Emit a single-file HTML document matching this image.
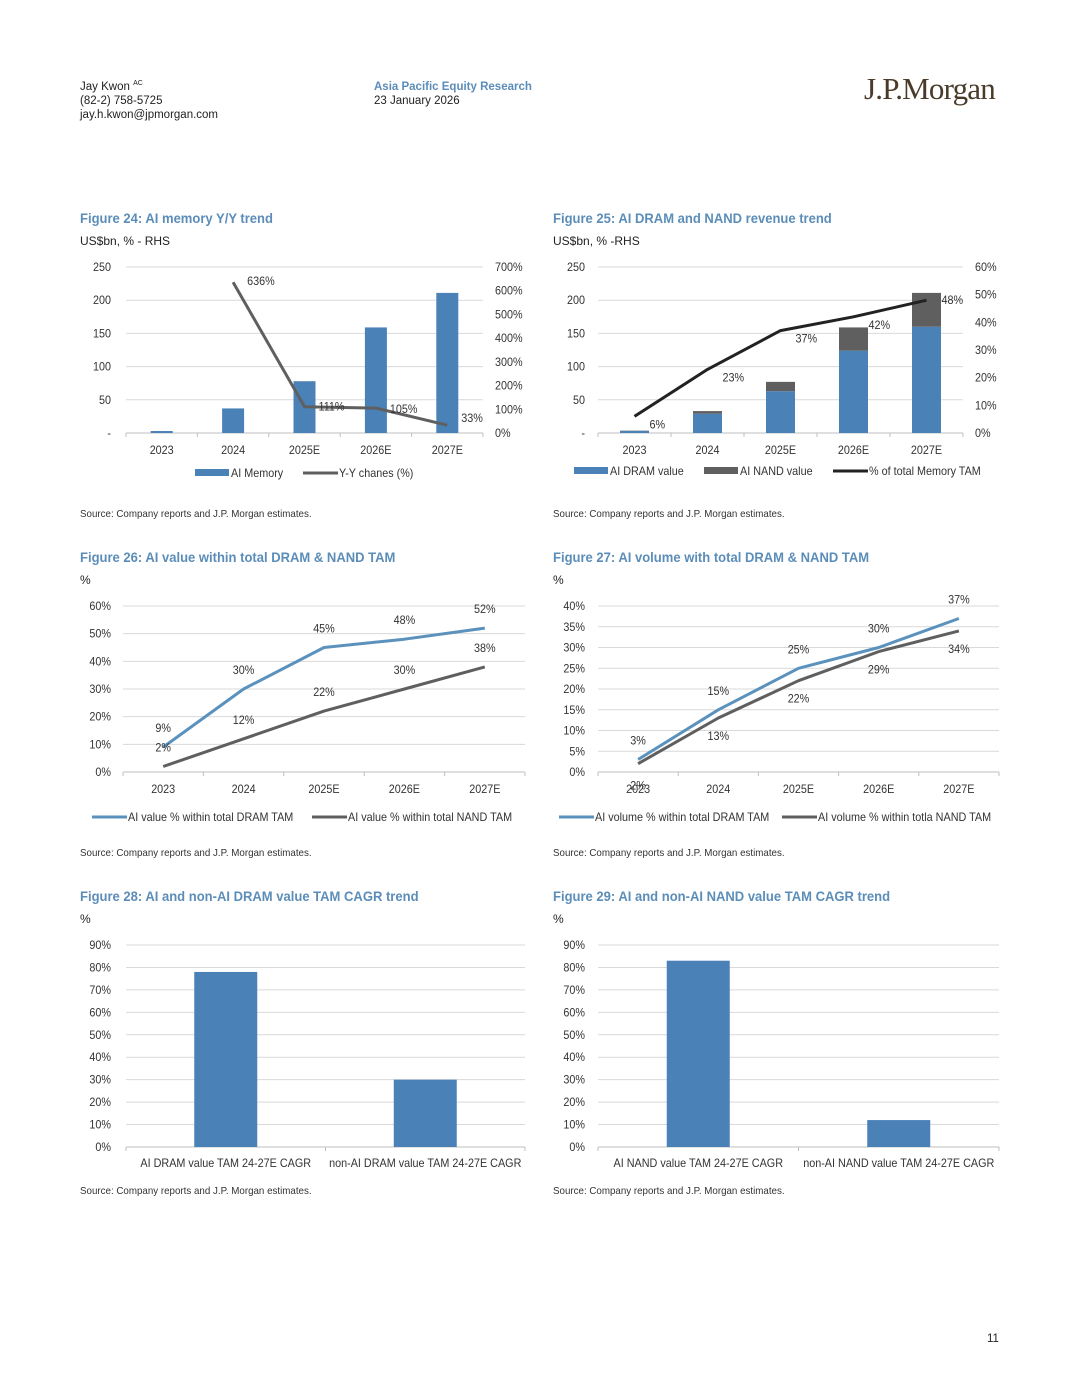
<!DOCTYPE html>
<html><head><meta charset="utf-8">
<style>
html,body{margin:0;padding:0;background:#fff;}
body{width:1080px;height:1397px;position:relative;overflow:hidden;font-family:"Liberation Sans",Arial,sans-serif;}
.t{position:absolute;white-space:nowrap;font-size:11.5px;color:#222;}
.title{position:absolute;white-space:nowrap;font-size:14px;font-weight:bold;color:#5b8db8;transform:scaleX(0.93);transform-origin:left top;}
.src{position:absolute;white-space:nowrap;font-size:10.5px;color:#333;transform:scaleX(0.93);transform-origin:left top;}
svg text{font-family:"Liberation Sans",Arial,sans-serif;font-size:12px;fill:#333;}
</style></head><body>
<div class="t" style="left:80px;top:80px;">Jay Kwon <sup style="font-size:7px">AC</sup></div>
<div class="t" style="left:80px;top:95px;">(82-2) 758-5725</div>
<div class="t" style="left:80px;top:109px;">jay.h.kwon@jpmorgan.com</div>
<div class="t" style="left:374px;top:81px;color:#5b8db8;font-weight:bold;">Asia Pacific Equity Research</div>
<div class="t" style="left:374px;top:95px;">23 January 2026</div>
<div style="position:absolute;left:864px;top:71px;font-family:'Liberation Serif',serif;font-size:31px;color:#4a3a2a;letter-spacing:-0.8px;">J.P.Morgan</div>

<div class="title" style="left:80px;top:210px;">Figure 24: AI memory Y/Y trend</div>
<div class="t" style="left:80px;top:234px;font-size:12px;">US$bn, % - RHS</div>
<div class="title" style="left:553px;top:210px;">Figure 25: AI DRAM and NAND revenue trend</div>
<div class="t" style="left:553px;top:234px;font-size:12px;">US$bn, % -RHS</div>
<div class="title" style="left:80px;top:549px;">Figure 26: AI value within total DRAM &amp; NAND TAM</div>
<div class="t" style="left:80px;top:573px;font-size:12px;">%</div>
<div class="title" style="left:553px;top:549px;">Figure 27: AI volume with total DRAM &amp; NAND TAM</div>
<div class="t" style="left:553px;top:573px;font-size:12px;">%</div>
<div class="title" style="left:80px;top:888px;">Figure 28: AI and non-AI DRAM value TAM CAGR trend</div>
<div class="t" style="left:80px;top:912px;font-size:12px;">%</div>
<div class="title" style="left:553px;top:888px;">Figure 29: AI and non-AI NAND value TAM CAGR trend</div>
<div class="t" style="left:553px;top:912px;font-size:12px;">%</div>

<div class="src" style="left:80px;top:508px;">Source: Company reports and J.P. Morgan estimates.</div>
<div class="src" style="left:553px;top:508px;">Source: Company reports and J.P. Morgan estimates.</div>
<div class="src" style="left:80px;top:847px;">Source: Company reports and J.P. Morgan estimates.</div>
<div class="src" style="left:553px;top:847px;">Source: Company reports and J.P. Morgan estimates.</div>
<div class="src" style="left:80px;top:1185px;">Source: Company reports and J.P. Morgan estimates.</div>
<div class="src" style="left:553px;top:1185px;">Source: Company reports and J.P. Morgan estimates.</div>
<div class="t" style="left:987px;top:1333px;">11</div>

<svg id="chart" width="1080" height="1397" style="position:absolute;left:0;top:0;"></svg>

<script>
// Figure 24
const years = ['2023','2024','2025E','2026E','2027E'];
const f24Memory = [3, 37, 78, 159, 211];
const f24Yoy = [null, 636, 111, 105, 33];
const f24LeftTicks = ['-','50','100','150','200','250'];
const f24RightTicks = ['0%','100%','200%','300%','400%','500%','600%','700%'];
// Figure 25
const f25Dram = [3, 29, 63, 124, 160];
const f25Nand = [0.5, 4, 14, 35, 51];
const f25Share = [6, 23, 37, 42, 48];
const f25LeftTicks = ['-','50','100','150','200','250'];
const f25RightTicks = ['0%','10%','20%','30%','40%','50%','60%'];
// Figure 26
const f26Dram = [9, 30, 45, 48, 52];
const f26Nand = [2, 12, 22, 30, 38];
const f26Ticks = ['0%','10%','20%','30%','40%','50%','60%'];
// Figure 27
const f27Dram = [3, 15, 25, 30, 37];
const f27Nand = [2, 13, 22, 29, 34];
const f27Ticks = ['0%','5%','10%','15%','20%','25%','30%','35%','40%'];
// Figure 28 / 29
const f28Cats = ['AI DRAM value TAM 24-27E CAGR','non-AI DRAM value TAM 24-27E CAGR'];
const f28Vals = [78, 30];
const f29Cats = ['AI NAND value TAM 24-27E CAGR','non-AI NAND value TAM 24-27E CAGR'];
const f29Vals = [83, 12];
const f2829Ticks = ['0%','10%','20%','30%','40%','50%','60%','70%','80%','90%'];

const svg = document.getElementById('chart');
const NS = 'http://www.w3.org/2000/svg';
const BLUE = '#4a82b8', GRAY = '#5f5f5f', LBLUE = '#5a92bd';
function mk(tag, attrs, parent) {
  const e = document.createElementNS(NS, tag);
  for (const k in attrs) e.setAttribute(k, attrs[k]);
  (parent || svg).appendChild(e);
  return e;
}
function txt(x, y, s, anchor, name, size) {
  const e = mk('text', {x: x, y: y, 'text-anchor': anchor || 'start'});
  if (size) e.setAttribute('style', 'font-size:' + size + 'px');
  e.textContent = s;
  
  
  const L = e.getComputedTextLength();
  if (L > 0) {
    e.setAttribute('textLength', (L * 0.9).toFixed(1));
    e.setAttribute('lengthAdjust', 'spacingAndGlyphs');
  }
  return e;
}
function frame(o) {
  const g = mk('g', {});
  
  
  const nl = o.leftTicks.length - 1;
  o.leftTicks.forEach((t, i) => {
    const y = o.y0 - (o.y0 - o.y1) * i / nl;
    if (i > 0) {
      const l = mk('line', {x1: o.x0, x2: o.x1, y1: y, y2: y, stroke: '#d9d9d9', 'stroke-width': 1}, g);
      
    }
    txt(o.leftX, y + 4, t, 'end', 'y-tick-label');
  });
  if (o.rightTicks) {
    const nr = o.rightTicks.length - 1;
    o.rightTicks.forEach((t, i) => {
      const y = o.y0 - (o.y0 - o.y1) * i / nr;
      txt(o.rightX, y + 4, t, 'start', 'y2-tick-label');
    });
  }
  const ax = mk('line', {x1: o.x0, x2: o.x1, y1: o.y0, y2: o.y0, stroke: '#bfbfbf', 'stroke-width': 1}, g);
  
  const w = (o.x1 - o.x0) / o.n;
  for (let i = 0; i <= o.n; i++) {
    const t = mk('line', {x1: o.x0 + w * i, x2: o.x0 + w * i, y1: o.y0, y2: o.y0 + 4, stroke: '#bfbfbf'}, g);
    
  }
  return w;
}
function xc(o, i) { return o.x0 + (o.x1 - o.x0) / o.n * (i + 0.5); }
function yv(o, v, max) { return o.y0 - (o.y0 - o.y1) * v / max; }
function line(o, vals, max, color, width, name) {
  const pts = [];
  vals.forEach((v, i) => { if (v !== null) pts.push(xc(o, i).toFixed(1) + ',' + yv(o, v, max).toFixed(1)); });
  const p = mk('polyline', {points: pts.join(' '), fill: 'none', stroke: color, 'stroke-width': width, 'stroke-linejoin': 'round'});
  
  
}
function legendBox(x, y, color, label, name) {
  const r = mk('rect', {x: x, y: y - 8, width: 34, height: 7, fill: color});
  
  
  txt(x + 36, y, label, 'start', name);
}
function legendLine(x, y, color, label, name) {
  const r = mk('line', {x1: x, x2: x + 35, y1: y - 4, y2: y - 4, stroke: color, 'stroke-width': 3});
  
  
  txt(x + 36, y, label, 'start', name);
}

// ---- Figure 24
const o24 = {name: 'fig24', x0: 126, x1: 483, y0: 433, y1: 267, n: 5, leftTicks: f24LeftTicks, rightTicks: f24RightTicks, leftX: 111, rightX: 495};
frame(o24);
f24Memory.forEach((v, i) => {
  const y = yv(o24, v, 250);
  const r = mk('rect', {x: xc(o24, i) - 11, y: y, width: 22, height: o24.y0 - y, fill: BLUE});
  
  
});
line(o24, f24Yoy, 700, GRAY, 3, 'line-yoy-change');
const f24Off = [[14, 3], [14, 4], [14, 5], [14, -3]];
f24Yoy.forEach((v, i) => {
  if (v === null) return;
  const k = i - 1;
  txt(xc(o24, i) + f24Off[k][0], yv(o24, v, 700) + f24Off[k][1], v + '%', 'start', 'yoy-data-label');
});
years.forEach((y, i) => txt(xc(o24, i), 454, y, 'middle', 'x-tick-label'));
legendBox(195, 477, BLUE, 'AI Memory', 'legend-ai-memory');
legendLine(303, 477, GRAY, 'Y-Y chanes (%)', 'legend-yoy-change');

// ---- Figure 25
const o25 = {name: 'fig25', x0: 598, x1: 963, y0: 433, y1: 267, n: 5, leftTicks: f25LeftTicks, rightTicks: f25RightTicks, leftX: 585, rightX: 975};
frame(o25);
f25Dram.forEach((v, i) => {
  const y = yv(o25, v, 250);
  const r = mk('rect', {x: xc(o25, i) - 14.5, y: y, width: 29, height: o25.y0 - y, fill: BLUE});
  
  
  const y2 = yv(o25, v + f25Nand[i], 250);
  const r2 = mk('rect', {x: xc(o25, i) - 14.5, y: y2, width: 29, height: y - y2, fill: '#5f5f5f'});
  
  
});
line(o25, f25Share, 60, '#222', 3, 'line-share-of-memory-tam');
f25Share.forEach((v, i) => {
  txt(xc(o25, i) + 15, yv(o25, v, 60) + (i === 4 ? 4 : 12), v + '%', 'start', 'share-data-label');
});
years.forEach((y, i) => txt(xc(o25, i), 454, y, 'middle', 'x-tick-label'));
legendBox(574, 475, BLUE, 'AI DRAM value', 'legend-ai-dram');
legendBox(704, 475, '#5f5f5f', 'AI NAND value', 'legend-ai-nand');
legendLine(833, 475, '#222', '% of total Memory TAM', 'legend-share-tam');

// ---- Figure 26
const o26 = {name: 'fig26', x0: 123, x1: 525, y0: 772, y1: 606, n: 5, leftTicks: f26Ticks, leftX: 111};
frame(o26);
line(o26, f26Dram, 60, LBLUE, 3, 'line-ai-value-dram');
line(o26, f26Nand, 60, GRAY, 3, 'line-ai-value-nand');
f26Dram.forEach((v, i) => txt(xc(o26, i), yv(o26, v, 60) - 15, v + '%', 'middle', 'dram-data-label'));
f26Nand.forEach((v, i) => txt(xc(o26, i), yv(o26, v, 60) - 15, v + '%', 'middle', 'nand-data-label'));
years.forEach((y, i) => txt(xc(o26, i), 793, y, 'middle', 'x-tick-label'));
legendLine(92, 821, LBLUE, 'AI value % within total DRAM TAM', 'legend-dram-value');
legendLine(312, 821, GRAY, 'AI value % within total NAND TAM', 'legend-nand-value');

// ---- Figure 27
const o27 = {name: 'fig27', x0: 598, x1: 999, y0: 772, y1: 606, n: 5, leftTicks: f27Ticks, leftX: 585};
frame(o27);
line(o27, f27Dram, 40, LBLUE, 3, 'line-ai-volume-dram');
line(o27, f27Nand, 40, GRAY, 3, 'line-ai-volume-nand');
f27Dram.forEach((v, i) => txt(xc(o27, i), yv(o27, v, 40) - 15, v + '%', 'middle', 'dram-volume-label'));
f27Nand.forEach((v, i) => txt(xc(o27, i), yv(o27, v, 40) + (i === 0 ? 26 : 22), v + '%', 'middle', 'nand-volume-label'));
years.forEach((y, i) => txt(xc(o27, i), 793, y, 'middle', 'x-tick-label'));
legendLine(559, 821, LBLUE, 'AI volume % within total DRAM TAM', 'legend-dram-volume');
legendLine(782, 821, GRAY, 'AI volume % within totla NAND TAM', 'legend-nand-volume');

// ---- Figure 28
const o28 = {name: 'fig28', x0: 126, x1: 525, y0: 1147, y1: 945, n: 2, leftTicks: f2829Ticks, leftX: 111};
frame(o28);
f28Vals.forEach((v, i) => {
  const y = yv(o28, v, 90);
  const r = mk('rect', {x: xc(o28, i) - 31.5, y: y, width: 63, height: o28.y0 - y, fill: BLUE});
  
  
});
f28Cats.forEach((c, i) => txt(xc(o28, i), 1167, c, 'middle', 'x-tick-label'));

// ---- Figure 29
const o29 = {name: 'fig29', x0: 598, x1: 999, y0: 1147, y1: 945, n: 2, leftTicks: f2829Ticks, leftX: 585};
frame(o29);
f29Vals.forEach((v, i) => {
  const y = yv(o29, v, 90);
  const r = mk('rect', {x: xc(o29, i) - 31.5, y: y, width: 63, height: o29.y0 - y, fill: BLUE});
  
  
});
f29Cats.forEach((c, i) => txt(xc(o29, i), 1167, c, 'middle', 'x-tick-label'));
</script>
</body></html>
